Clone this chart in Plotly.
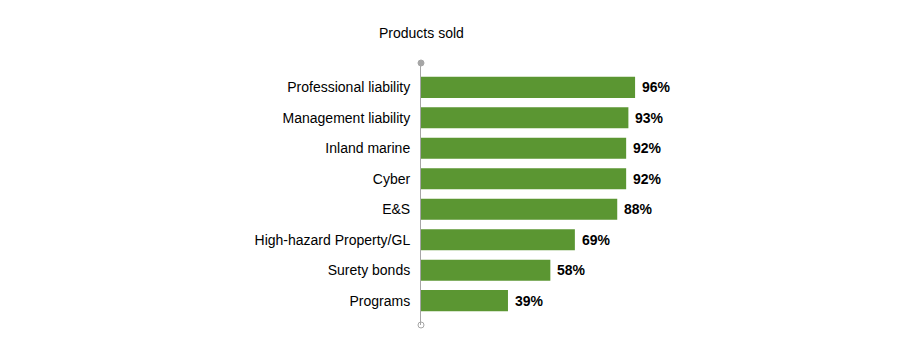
import plotly.graph_objects as go

categories = ["Professional liability", "Management liability", "Inland marine", "Cyber",
              "E&S", "High-hazard Property/GL", "Surety bonds", "Programs"]
values = [96, 93, 92, 92, 88, 69, 58, 39]
value_labels = ["96%", "93%", "92%", "92%", "88%", "69%", "58%", "39%"]
title_text = "Products sold"

positions = list(range(len(categories)))
y_lo, y_hi = -0.8, len(categories) - 1 + 0.8

fig = go.Figure()
fig.add_trace(go.Bar(
    x=values, y=positions, orientation="h",
    marker=dict(color="#5B9632", line=dict(width=0)),
    width=0.69, hoverinfo="skip",
))
# end caps of the axis line
fig.add_trace(go.Scatter(
    x=[0, 0], y=[y_lo, y_hi], mode="markers",
    marker=dict(size=6, color=["#A6A6A6", "#FFFFFF"],
                line=dict(color="#A6A6A6", width=1)),
    cliponaxis=False, hoverinfo="skip",
))

# value labels just past each bar end
annotations = [
    dict(x=v, y=p, xref="x", yref="y", text=f"<b>{lbl}</b>", showarrow=False,
         xanchor="left", yanchor="middle", xshift=5,
         font=dict(size=14, color="#000000"))
    for v, p, lbl in zip(values, positions, value_labels)
]
annotations.append(dict(text=title_text, xref="paper", yref="paper", x=0, y=1,
                        yshift=30, xanchor="center", yanchor="middle", showarrow=False,
                        font=dict(size=14)))

fig.update_layout(
    width=924, height=350,
    margin=dict(l=421, r=280, t=63, b=25),
    paper_bgcolor="white", plot_bgcolor="white",
    showlegend=False,
    font=dict(family="Liberation Sans, Arial", size=14, color="#000000"),
    xaxis=dict(range=[0, 100], visible=False, fixedrange=True),
    yaxis=dict(range=[y_hi, y_lo], tickvals=positions, ticktext=categories,
               showline=True, linecolor="#A6A6A6", linewidth=1,
               showgrid=False, zeroline=False, ticks="", ticklen=0,
               ticklabelstandoff=7,
               tickfont=dict(size=14), fixedrange=True),
    annotations=annotations,
)

fig.write_html("out.html")
